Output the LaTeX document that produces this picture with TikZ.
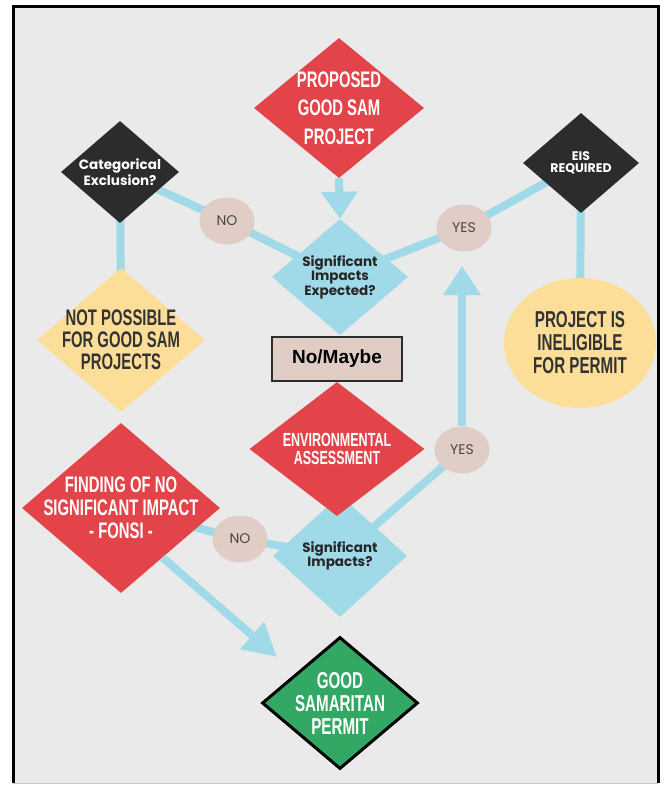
\documentclass[tikz,border=0pt]{standalone}
\usepackage{fontspec}
\setmainfont{Liberation Sans}
\newfontfamily\bebas[FakeStretch=0.66]{Liberation Sans}
\newfontfamily\mont{Poppins}
\usetikzlibrary{arrows.meta,shapes.geometric}

\definecolor{redd}{HTML}{E2444A}
\definecolor{blu}{HTML}{A0DAE9}
\definecolor{dark}{HTML}{2C2C2C}
\definecolor{beige}{HTML}{E0CDC5}
\definecolor{yell}{HTML}{FDDE99}
\definecolor{grn}{HTML}{33A864}
\definecolor{bgc}{HTML}{EAEAEA}
\definecolor{ink}{HTML}{333333}

\pgfdeclarelayer{background}
\pgfsetlayers{background,main}

\begin{document}
\begin{tikzpicture}[x=1pt,y=-1pt,
  link/.style={line width=8pt,draw=blu},
  dia/.style={diamond,inner sep=-40pt,align=center},
  big/.style={font=\bebas\bfseries\fontsize{23}{23}\selectfont},
  small/.style={font=\mont\bfseries\fontsize{13.5}{12}\selectfont},
  bubble/.style={ellipse,fill=beige,minimum width=55pt,minimum height=47pt,
                 inner sep=0pt,text=ink!90,font=\mont\fontsize{14}{14}\selectfont}]

\useasboundingbox (0,0) rectangle (664,785);

 % top row
 \node[dia,fill=blu,small,text=black!85,minimum width=136pt,minimum height=116pt]
      (S) at (340,277) {Significant\\Impacts\\Expected?};
 \node[dia,fill=redd,big,text=white,minimum width=170pt,minimum height=140pt,
       font=\bebas\bfseries\fontsize{22.5}{28.5}\selectfont]
      (A) at (339,108) {PROPOSED\\GOOD SAM\\PROJECT};
 \node[dia,fill=dark,small,text=white,minimum width=118pt,minimum height=102pt,
       font=\mont\bfseries\fontsize{13.5}{14}\selectfont]
      (C) at (120,172) {Categorical\\Exclusion?};
 \node[dia,fill=dark,small,text=white,minimum width=116pt,minimum height=100pt,
       font=\mont\bfseries\fontsize{12.5}{11.5}\selectfont]
      (E) at (581,163) {EIS\\REQUIRED};
 \node[bubble] (N1) at (227,221) {NO};
 \node[bubble] (Y1) at (464,228) {YES};

 % middle
 \node[dia,fill=yell,big,text=ink,minimum width=168pt,minimum height=144pt,
       font=\bebas\bfseries\fontsize{22.5}{22}\selectfont]
      (P) at (121,340) {NOT POSSIBLE\\FOR GOOD SAM\\PROJECTS};
 \node[ellipse,fill=yell,big,text=ink,inner sep=0pt,align=center,
       minimum width=152pt,minimum height=130pt]
      (I) at (580,343) {PROJECT IS\\INELIGIBLE\\FOR PERMIT};
 \node[dia,fill=blu,small,text=black!85,minimum width=134pt,minimum height=122pt]
      (Q) at (340,556) {Significant\\Impacts?};
 \node[dia,fill=redd,big,text=white,minimum width=175pt,minimum height=134pt,
       font=\bebas\bfseries\fontsize{19}{18}\selectfont]
      (V) at (337,449) {ENVIRONMENTAL\\ASSESSMENT};
 \node[rectangle,fill=beige,draw=dark,line width=2pt,minimum width=130pt,
       minimum height=44pt,font=\bfseries\fontsize{19}{19}\selectfont]
      (M) at (337,359) {No/Maybe};
 \node[bubble] (Y2) at (462,450) {YES};
 \node[bubble] (N2) at (240,539) {NO};

 % bottom
 \node[dia,fill=redd,big,text=white,minimum width=198pt,minimum height=170pt,
       font=\bebas\bfseries\fontsize{22.5}{23}\selectfont]
      (F) at (121,508) {FINDING OF NO\\SIGNIFICANT IMPACT\\- FONSI -};
 \node[dia,fill=grn,draw=black,line width=3pt,big,text=white,
       minimum width=156pt,minimum height=132pt]
      (G) at (340,703) {GOOD\\SAMARITAN\\PERMIT};

 \coordinate (T1) at (462,266);
 \coordinate (T2) at (277,657);

 \begin{pgfonlayer}{background}
  \fill[bgc] (13,6) rectangle (658,783);
  \draw[line width=3pt] (13,783) -- (13,6) -- (658,6) -- (658,783);
  \draw[gray!45] (13,783) -- (658,783);
  \path[link] (C.center) edge (N1.center)
              (N1.center) edge (S.center)
              (C.center) edge (P.center)
              (S.center) edge (Y1.center)
              (Y1.center) edge (E.center)
              (E.center) edge (I.center)
              (Q.center) edge (Y2.center)
              (F.center) edge (N2.center)
              (N2.center) edge (Q.center);
 \end{pgfonlayer}

 \draw[link,-{Triangle[width=35pt,length=27pt]}] (A.south) -- (S.north);
 \draw[link,-{Triangle[width=36pt,length=29pt]}] (Y2) -- (T1);
 \draw[link,-{Triangle[width=34pt,length=33pt]}] (F.-50) -- (T2);

\end{tikzpicture}
\end{document}
